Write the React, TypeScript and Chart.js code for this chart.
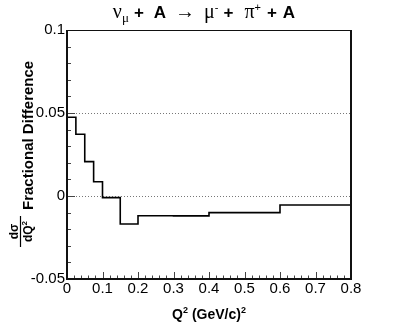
import React, { useEffect, useRef } from "react";
import { Chart, registerables } from "chart.js";

Chart.register(...registerables);

// ---- data ----
const binEdges = [0, 0.025, 0.05, 0.075, 0.1, 0.15, 0.2, 0.3, 0.4, 0.6, 0.8];
const binValues = [0.0474, 0.0372, 0.0207, 0.0086, -0.001, -0.0169, -0.0119, -0.012, -0.01, -0.0054];
const xTickValues = [0, 0.1, 0.2, 0.3, 0.4, 0.5, 0.6, 0.7, 0.8];
const xTickLabels = ["0", "0.1", "0.2", "0.3", "0.4", "0.5", "0.6", "0.7", "0.8"];
const yTickValues = [-0.05, 0, 0.05, 0.1];
const yTickLabels = ["-0.05", "0", "0.05", "0.1"];
const gridLevels = [0.05, 0];
const xMinorStep = 0.02;
const yMinorStep = 0.01;

type Run = { text: string; font: string; dy?: number; gap?: number };

function drawRuns(ctx: CanvasRenderingContext2D, runs: Run[], cx: number, baseline: number) {
  let total = 0;
  const widths = runs.map((r) => {
    ctx.font = r.font;
    const w = ctx.measureText(r.text).width;
    total += w + (r.gap || 0);
    return w;
  });
  let x = cx - total / 2;
  ctx.textAlign = "left";
  ctx.textBaseline = "alphabetic";
  runs.forEach((r, i) => {
    x += r.gap || 0;
    ctx.font = r.font;
    ctx.fillText(r.text, x, baseline + (r.dy || 0));
    x += widths[i];
  });
}

const decorPlugin = {
  id: "decor",
  beforeDatasetsDraw(chart: any) {
    const { ctx, chartArea, scales } = chart;
    const ys = scales.y;
    ctx.save();
    ctx.strokeStyle = "#777";
    ctx.lineWidth = 1;
    ctx.setLineDash([1, 2]);
    gridLevels.forEach((v) => {
      const y = Math.round(ys.getPixelForValue(v)) + 0.5;
      ctx.beginPath();
      ctx.moveTo(chartArea.left, y);
      ctx.lineTo(chartArea.right, y);
      ctx.stroke();
    });
    ctx.restore();
  },
  afterDraw(chart: any) {
    const { ctx, chartArea, scales } = chart;
    const xs = scales.x;
    const ys = scales.y;
    const { left, right, top, bottom } = chartArea;
    ctx.save();
    // ticks
    ctx.strokeStyle = "#444";
    ctx.lineWidth = 1;
    ctx.setLineDash([]);
    const nx = Math.round((xs.max - xs.min) / xMinorStep);
    for (let i = 0; i <= nx; i++) {
      const v = xs.min + i * xMinorStep;
      const major = i % 5 === 0;
      const x = Math.round(xs.getPixelForValue(v)) + 0.5;
      ctx.beginPath();
      ctx.moveTo(x, bottom);
      ctx.lineTo(x, bottom - (major ? 7 : 3.5));
      ctx.stroke();
    }
    const ny = Math.round((ys.max - ys.min) / yMinorStep);
    for (let i = 0; i <= ny; i++) {
      const v = ys.min + i * yMinorStep;
      const major = i % 5 === 0;
      const y = Math.round(ys.getPixelForValue(v)) + 0.5;
      ctx.beginPath();
      ctx.moveTo(left, y);
      ctx.lineTo(left + (major ? 8 : 4), y);
      ctx.stroke();
    }
    // frame
    ctx.strokeStyle = "#111";
    ctx.lineWidth = 1;
    ctx.beginPath();
    ctx.moveTo(left, Math.round(top) + 0.5);
    ctx.lineTo(right, Math.round(top) + 0.5);
    ctx.stroke();
    ctx.lineWidth = 2;
    ctx.beginPath();
    ctx.moveTo(Math.round(left), top);
    ctx.lineTo(Math.round(left), bottom);
    ctx.lineTo(right, bottom);
    ctx.lineTo(right, top);
    ctx.stroke();

    ctx.fillStyle = "#000";
    // title
    const serif = '"Liberation Serif", serif';
    const sans = '"Liberation Sans", Arial, sans-serif';
    drawRuns(
      ctx,
      [
        { text: "ν", font: `20px ${serif}` },
        { text: "μ", font: `13px ${serif}`, dy: 4 },
        { text: "+", font: `bold 17px ${sans}`, gap: 5 },
        { text: "A", font: `bold 17px ${sans}`, gap: 10 },
        { text: "→", font: `20px ${serif}`, gap: 9 },
        { text: "μ", font: `20px ${serif}`, gap: 9 },
        { text: "-", font: `11px ${sans}`, dy: -7 },
        { text: "+", font: `bold 17px ${sans}`, gap: 5 },
        { text: "π", font: `20px ${serif}`, gap: 11 },
        { text: "+", font: `11px ${sans}`, dy: -7 },
        { text: "+", font: `bold 17px ${sans}`, gap: 6 },
        { text: "A", font: `bold 17px ${sans}`, gap: 6 },
      ],
      204,
      18
    );
    // x title
    drawRuns(
      ctx,
      [
        { text: "Q", font: `bold 14px ${sans}` },
        { text: "2", font: `bold 9px ${sans}`, dy: -6 },
        { text: " (GeV/c)", font: `bold 14px ${sans}` },
        { text: "2", font: `bold 9px ${sans}`, dy: -6 },
      ],
      (left + right) / 2,
      319
    );
    // y title (rotated)
    ctx.rotate(-Math.PI / 2);
    ctx.textAlign = "left";
    ctx.textBaseline = "alphabetic";
    ctx.font = `bold 15px ${sans}`;
    ctx.fillText("Fractional Difference", -210, 32.5);
    // fraction
    ctx.lineWidth = 1.2;
    ctx.strokeStyle = "#000";
    ctx.beginPath();
    ctx.moveTo(-247, 20.5);
    ctx.lineTo(-216, 20.5);
    ctx.stroke();
    ctx.font = `bold 12px ${sans}`;
    ctx.textAlign = "center";
    ctx.fillText("dσ", -231.5, 18);
    drawRuns(
      ctx,
      [
        { text: "dQ", font: `bold 12px ${sans}` },
        { text: "2", font: `bold 8px ${sans}`, dy: -5 },
      ],
      -231.5,
      32
    );
    ctx.restore();
  },
};

export default function App() {
  const ref = useRef<HTMLCanvasElement | null>(null);
  useEffect(() => {
    if (!ref.current) return;
    const points = binValues.map((v, i) => ({ x: binEdges[i], y: v }));
    points.push({ x: binEdges[binEdges.length - 1], y: binValues[binValues.length - 1] });
    const chart = new Chart(ref.current, {
      type: "line",
      data: {
        datasets: [
          {
            data: points,
            stepped: "before",
            borderColor: "#000",
            borderWidth: 1.6,
            pointRadius: 0,
            fill: false,
          },
        ],
      },
      options: {
        animation: false,
        responsive: false,
        devicePixelRatio: 1,
        layout: { padding: { top: 30, right: 56, left: 0, bottom: 0 } },
        plugins: { legend: { display: false }, tooltip: { enabled: false }, title: { display: false } },
        scales: {
          x: {
            type: "linear",
            min: 0,
            max: 0.8,
            grid: { display: false, drawTicks: false },
            border: { display: false },
            afterBuildTicks: (s: any) => {
              s.ticks = xTickValues.map((v) => ({ value: v }));
            },
            afterFit: (s: any) => {
              s.height = 49;
            },
            ticks: {
              autoSkip: false,
              maxRotation: 0,
              padding: 1,
              color: "#000",
              font: { family: '"Liberation Sans", Arial, sans-serif', size: 15 },
              callback: (v: any) => {
                const i = xTickValues.findIndex((t) => Math.abs(t - v) < 1e-9);
                return i >= 0 ? xTickLabels[i] : "";
              },
            },
          },
          y: {
            type: "linear",
            min: -0.05,
            max: 0.1,
            grid: { display: false, drawTicks: false },
            border: { display: false },
            afterBuildTicks: (s: any) => {
              s.ticks = yTickValues.map((v) => ({ value: v }));
            },
            afterFit: (s: any) => {
              s.width = 67;
            },
            ticks: {
              autoSkip: false,
              padding: 2,
              color: "#000",
              font: { family: '"Liberation Sans", Arial, sans-serif', size: 15 },
              callback: (v: any) => {
                const i = yTickValues.findIndex((t) => Math.abs(t - v) < 1e-9);
                return i >= 0 ? yTickLabels[i] : "";
              },
            },
          },
        },
      },
      plugins: [decorPlugin],
    } as any);
    return () => chart.destroy();
  }, []);
  return (
    <div style={{ position: "absolute", left: 0, top: 0, width: 407, height: 328, background: "#fff" }}>
      <canvas ref={ref} width={407} height={328} style={{ display: "block" }} />
    </div>
  );
}
